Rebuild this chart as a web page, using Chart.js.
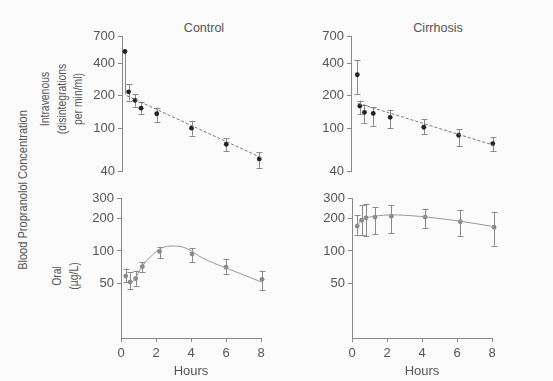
<!DOCTYPE html>
<html>
<head>
<meta charset="utf-8">
<script src="https://cdn.jsdelivr.net/npm/chart.js@4.4.1/dist/chart.umd.min.js"></script>
<style>
  body { margin: 0; background: #fbfbfb; font-family: 'Liberation Sans', Arial, sans-serif; }
  #page { position: relative; width: 553px; height: 381px; overflow: hidden; }
  .box { position: absolute; }
  .lbl { position: absolute; color: #555; font-size: 13px; white-space: nowrap; text-align: center; }
  .rot { transform: translate(-50%, -50%) rotate(-90deg) scaleX(0.8); line-height: 16.5px; }
  .ttl { transform: translate(-50%, -50%); font-size: 12.5px; }
</style>
</head>
<body>
<div id="page">
  <div class="lbl ttl" style="left:204px; top:28px;">Control</div>
  <div class="lbl ttl" style="left:438px; top:28px;">Cirrhosis</div>
  <div class="lbl rot" style="left:23px; top:190px; transform: translate(-50%, -50%) rotate(-90deg) scaleX(0.85);">Blood Propranolol Concentration</div>
  <div class="lbl rot" style="left:62px; top:99px;">Intravenous<br>(disintegrations<br>per min/ml)</div>
  <div class="lbl rot" style="left:65px; top:276px;">Oral<br>(µg/L)</div>

  <div class="box" style="left:90px; top:26px; width:179px; height:156px;"><canvas id="ivControl"></canvas></div>
  <div class="box" style="left:319px; top:26px; width:180px; height:156px;"><canvas id="ivCirrhosis"></canvas></div>
  <div class="box" style="left:89px; top:188px; width:180px; height:193px;"><canvas id="oralControl"></canvas></div>
  <div class="box" style="left:320px; top:188px; width:180px; height:193px;"><canvas id="oralCirrhosis"></canvas></div>
</div>

<script>
// ---- data ----
const hourTicks = [0, 2, 4, 6, 8];
const ivTicks = [40, 100, 200, 400, 700];
const oralTicks = [50, 100, 200, 300];

// Intravenous, control
const ivControlHours = [0.17, 0.38, 0.75, 1.1, 2.0, 4.0, 6.0, 7.9];
const ivControlMean  = [512, 217, 181, 153, 136, 100, 71, 52];
const ivControlHigh  = [512, 256, 208, 173, 155, 117, 81, 60];
const ivControlLow   = [205, 180, 158, 135, 114, 85, 61, 43];
const ivControlFitHours = [0.27, 8.05];
const ivControlFit      = [200, 53];

// Intravenous, cirrhosis
const ivCirrHours = [0.36, 0.5, 0.77, 1.27, 2.24, 4.16, 6.15, 8.1];
const ivCirrMean  = [312, 160, 140, 137, 126, 102, 86, 72];
const ivCirrHigh  = [427, 180, 165, 157, 146, 121, 98, 83];
const ivCirrLow   = [205, 135, 112, 105, 100, 88, 68, 61];
const ivCirrFitHours = [0.4, 8.1];
const ivCirrFit      = [170, 70];

// Oral, control
const oralControlHours = [0.27, 0.52, 0.84, 1.22, 2.2, 4.06, 6.0, 8.06];
const oralControlMean  = [59, 52, 56, 72, 99, 94, 71, 55];
const oralControlHigh  = [69, 64, 66, 79, 108, 106, 84, 66];
const oralControlLow   = [52, 45, 48, 64, 86, 79, 61, 44];
const oralControlFitHours = [0.55, 0.84, 1.22, 1.8, 2.28, 3.05, 3.72, 4.67, 6.0, 8.03];
const oralControlFit      = [50, 57, 73, 92, 106, 111, 106, 86, 70, 52];

// Oral, cirrhosis
const oralCirrHours = [0.3, 0.55, 0.8, 1.32, 2.25, 4.18, 6.19, 8.12];
const oralCirrMean  = [169, 191, 201, 204, 208, 204, 185, 165];
const oralCirrHigh  = [214, 261, 271, 250, 263, 244, 236, 229];
const oralCirrLow   = [141, 140, 136, 143, 145, 161, 138, 112];
const oralCirrFitHours = [0.3, 0.5, 0.8, 1.3, 2.3, 3.0, 4.2, 6.2, 8.1];
const oralCirrFit      = [170, 188, 200, 208, 214, 212, 205, 187, 167];

Chart.defaults.font.family = "'Liberation Sans', Arial, sans-serif";
Chart.defaults.font.size = 12.5;
Chart.defaults.color = '#555';

const axisGrey = '#888';

// draws the vertical error bars with small caps, using the chart's scales
const errorBars = {
    id: 'errorBars',
    beforeDatasetsDraw(chart) {
        const ctx = chart.ctx;
        const x = chart.scales.x, y = chart.scales.y;
        chart.data.datasets.forEach(ds => {
            if (!ds.errLow) return;
            ctx.save();
            ctx.strokeStyle = ds.errColor;
            ctx.lineWidth = 1;
            ds.data.forEach((p, i) => {
                const px = Math.round(x.getPixelForValue(p.x)) + 0.5;
                const top = y.getPixelForValue(ds.errHigh[i]);
                const bot = y.getPixelForValue(ds.errLow[i]);
                ctx.beginPath();
                ctx.moveTo(px, top);
                ctx.lineTo(px, bot);
                if (!(ds.capless || []).includes(i)) {
                    ctx.moveTo(px - 3, Math.round(top) + 0.5);
                    ctx.lineTo(px + 3, Math.round(top) + 0.5);
                    ctx.moveTo(px - 3, Math.round(bot) + 0.5);
                    ctx.lineTo(px + 3, Math.round(bot) + 0.5);
                }
                ctx.stroke();
            });
            ctx.restore();
        });
    }
};

function toXY(xs, ys) {
    return xs.map((h, i) => ({ x: h, y: ys[i] }));
}

function makePanel(id, opts) {
    const isOral = opts.showHours;
    new Chart(document.getElementById(id), {
        type: 'scatter',
        data: {
            datasets: [
                {
                    data: toXY(opts.fitHours, opts.fit),
                    showLine: true,
                    clip: false,
                    borderColor: opts.lineColor,
                    borderWidth: 1,
                    borderDash: opts.dashed ? [3, 2] : [],
                    pointRadius: 0,
                    tension: opts.dashed ? 0 : 0.4,
                    cubicInterpolationMode: 'monotone'
                },
                {
                    data: toXY(opts.hours, opts.mean),
                    showLine: false,
                    clip: false,
                    pointRadius: 2.4,
                    pointBorderWidth: 0,
                    pointBackgroundColor: opts.pointColor,
                    errLow: opts.low,
                    errHigh: opts.high,
                    errColor: '#8a8a8a',
                    capless: opts.capless
                }
            ]
        },
        options: {
            responsive: true,
            maintainAspectRatio: false,
            animation: false,
            layout: { padding: { top: 10, right: 8, bottom: isOral ? 0 : 6, left: 0 } },
            plugins: { legend: { display: false }, tooltip: { enabled: false } },
            scales: {
                x: {
                    type: 'linear',
                    min: 0,
                    max: 8,
                    display: isOral,
                    afterBuildTicks: s => { s.ticks = hourTicks.map(v => ({ value: v })); },
                    afterFit: s => { if (isOral) s.height = 43; },
                    grid: { drawOnChartArea: false, drawTicks: true, tickLength: 4, color: axisGrey },
                    border: { display: true, color: axisGrey },
                    ticks: { padding: 4, font: { size: 13 } },
                    title: { display: true, text: 'Hours', font: { size: 13 }, padding: { top: 0, bottom: 2 } }
                },
                y: {
                    type: 'logarithmic',
                    min: opts.yMin,
                    max: opts.yMax,
                    afterBuildTicks: s => { s.ticks = opts.yTicks.map(v => ({ value: v })); },
                    afterFit: s => { s.width = 32; },
                    grid: { drawOnChartArea: false, drawTicks: true, tickLength: 4, color: axisGrey },
                    border: { display: true, color: axisGrey },
                    ticks: { padding: 3, callback: v => String(v), font: { size: 13 } }
                }
            }
        },
        plugins: [errorBars]
    });
}

makePanel('ivControl', {
    hours: ivControlHours, mean: ivControlMean, high: ivControlHigh, low: ivControlLow,
    fitHours: ivControlFitHours, fit: ivControlFit, capless: [0],
    dashed: true, lineColor: '#777', pointColor: '#222',
    yMin: 40, yMax: 700, yTicks: ivTicks, showHours: false
});
makePanel('ivCirrhosis', {
    hours: ivCirrHours, mean: ivCirrMean, high: ivCirrHigh, low: ivCirrLow,
    fitHours: ivCirrFitHours, fit: ivCirrFit,
    dashed: true, lineColor: '#777', pointColor: '#222',
    yMin: 40, yMax: 700, yTicks: ivTicks, showHours: false
});
makePanel('oralControl', {
    hours: oralControlHours, mean: oralControlMean, high: oralControlHigh, low: oralControlLow,
    fitHours: oralControlFitHours, fit: oralControlFit,
    dashed: false, lineColor: '#999', pointColor: '#888',
    yMin: 16, yMax: 300, yTicks: oralTicks, showHours: true
});
makePanel('oralCirrhosis', {
    hours: oralCirrHours, mean: oralCirrMean, high: oralCirrHigh, low: oralCirrLow,
    fitHours: oralCirrFitHours, fit: oralCirrFit,
    dashed: false, lineColor: '#999', pointColor: '#888',
    yMin: 16, yMax: 300, yTicks: oralTicks, showHours: true
});
</script>
</body>
</html>
